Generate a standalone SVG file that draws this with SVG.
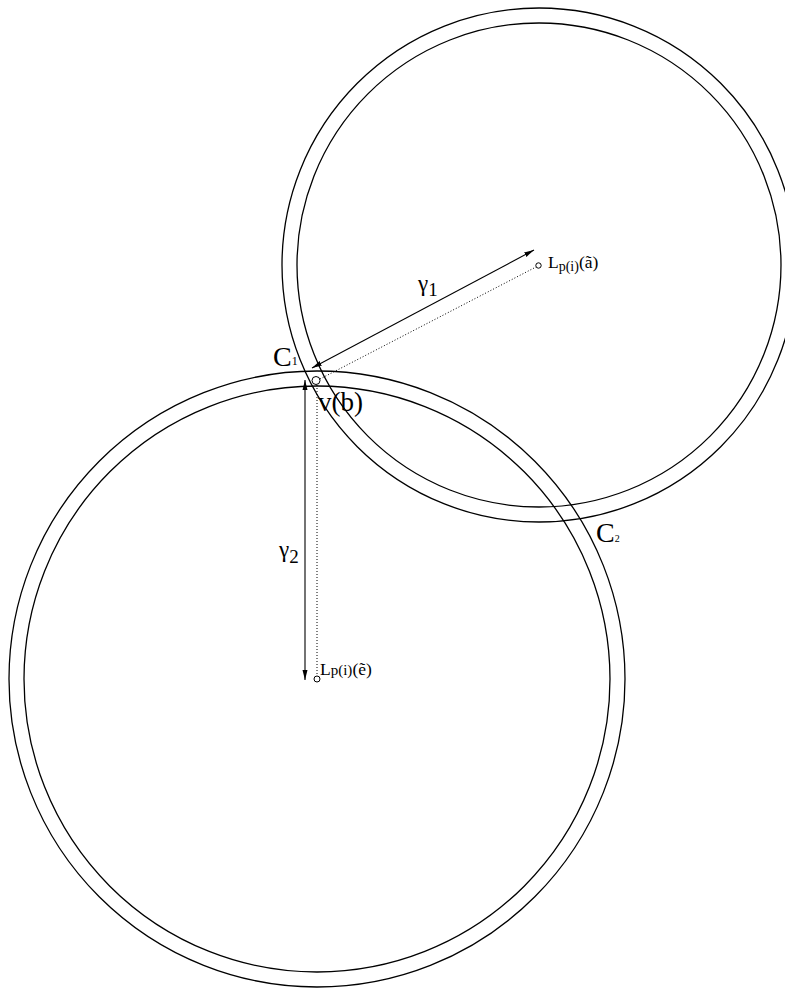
<svg xmlns="http://www.w3.org/2000/svg" width="785" height="988" viewBox="0 0 785 988">
<style>
.c{fill:none;stroke:#000;stroke-width:1.3}
.a{fill:none;stroke:#000;stroke-width:1.1}
.d{fill:none;stroke:#000;stroke-width:1;stroke-dasharray:1 2}
.p{fill:none;stroke:#000;stroke-width:1}
.t{font-family:"Liberation Serif","Times New Roman",serif;fill:#000}
</style>
<defs>
<marker id="ah" viewBox="0 0 10 6" refX="10" refY="3" markerWidth="10" markerHeight="6" markerUnits="userSpaceOnUse" orient="auto-start-reverse">
<path d="M0,0.5 L10,3 L0,5.5 Z" fill="#000"/>
</marker>
</defs>
<rect width="785" height="988" fill="#fff"/>
<g id="circle-upper">
<circle class="c" cx="539" cy="265" r="257"/>
<circle class="c" cx="539" cy="265" r="242"/>
</g>
<g id="circle-lower">
<circle class="c" cx="317" cy="679" r="308"/>
<circle class="c" cx="317" cy="679" r="293"/>
</g>
<g id="connectors">
<line class="a" x1="312" y1="368" x2="534" y2="250" marker-start="url(#ah)" marker-end="url(#ah)"/>
<line class="d" x1="320" y1="379" x2="536" y2="267"/>
<line class="a" x1="305" y1="380" x2="305" y2="680" marker-start="url(#ah)" marker-end="url(#ah)"/>
<line class="d" x1="317" y1="385" x2="317" y2="676"/>
</g>
<g id="node-vb">
<circle class="p" cx="316" cy="380.5" r="4"/>
<text class="t" x="318" y="411" font-size="27">v(b)</text>
</g>
<g id="node-La">
<circle class="p" cx="538.5" cy="265.5" r="2.7"/>
<text class="t" x="548" y="268" font-size="17.5">L<tspan font-size="14" dy="3">p(i)</tspan><tspan dy="-3">(ã)</tspan></text>
</g>
<g id="node-Le">
<circle class="p" cx="317" cy="679" r="3"/>
<text class="t" x="320" y="675" font-size="17.5">L<tspan font-size="15">p(i)</tspan>(ẽ)</text>
</g>
<g id="label-C1">
<text class="t" x="273" y="366" font-size="28">C<tspan font-size="12" dy="-1">1</tspan></text>
</g>
<g id="label-C2">
<text class="t" x="596" y="542" font-size="28">C<tspan font-size="10">2</tspan></text>
</g>
<g id="label-g1">
<text class="t" x="418" y="291" font-size="23">γ<tspan font-size="19" dy="5">1</tspan></text>
</g>
<g id="label-g2">
<text class="t" x="279" y="557" font-size="23">γ<tspan font-size="19" dy="6">2</tspan></text>
</g>
</svg>
